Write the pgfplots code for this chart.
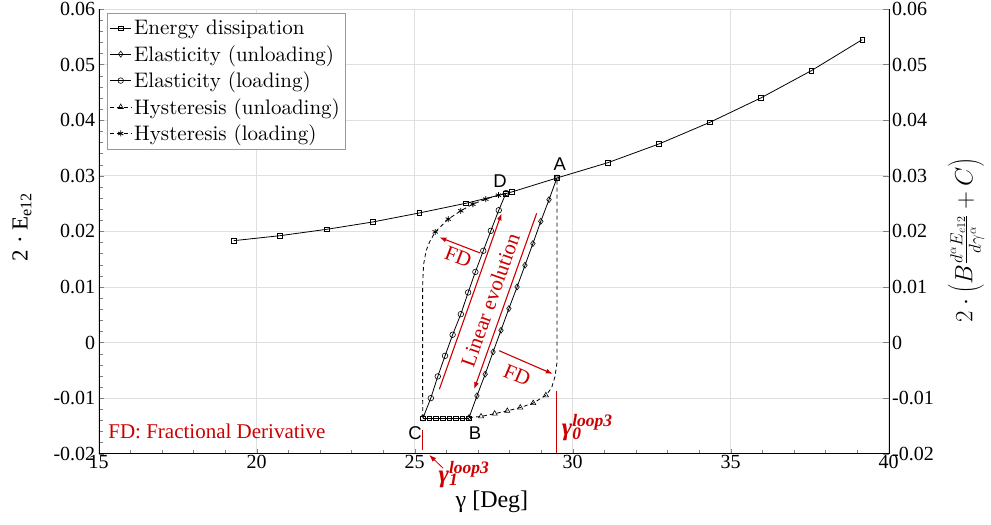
\documentclass[border=0pt]{standalone}
\usepackage{fontspec}
\usepackage{pgfplots}
\pgfplotsset{compat=1.18}
\usetikzlibrary{arrows.meta}
\newfontfamily\timesfont{Liberation Serif}
\newfontfamily\arialfont{Liberation Sans}
\newfontfamily\lmten{lmroman10-regular}[Extension=.otf]
\definecolor{annred}{RGB}{204,0,0}
\newcommand{\gammalab}[1]{\char"03B3\rlap{\textsuperscript{loop3}}\textsubscript{#1}}
\begin{document}
\begin{tikzpicture}[>={Latex[length=7pt,width=5pt]}]
\begin{axis}[
  scale only axis, width=790pt, height=444.7pt,
  xmin=15, xmax=40, ymin=-0.02, ymax=0.06,
  axis x line*=bottom, axis y line*=left,
  xtick={15,20,25,30,35,40},
  ytick={-0.02,-0.01,0,0.01,0.02,0.03,0.04,0.05,0.06},
  minor x tick num=4, minor y tick num=4,
  tick align=inside,
  major tick length=5pt, minor tick length=4pt,
  grid=major, major grid style={gray!25, line width=0.6pt},
  scaled y ticks=false,
  yticklabel style={/pgf/number format/fixed, /pgf/number format/precision=2},
  /pgf/number format/assume math mode=true,
  tick label style={font=\timesfont\fontsize{20}{22}\selectfont},
  xticklabel style={yshift=2pt},
  clip=false,
  legend style={at={(0.01,0.99)}, anchor=north west, draw=gray!80, fill=white,
    font=\lmten\fontsize{21}{23}\selectfont, cells={anchor=west},
    nodes={inner ysep=4.6pt, inner xsep=2.5pt}},
  legend image code/.code={\draw[mark repeat=2,mark phase=2] plot coordinates {(0cm,0cm) (0.37cm,0cm) (0.74cm,0cm)};},
]
\addlegendimage{black, line width=0.8pt, mark=square, mark size=2.3pt, mark options={solid, fill=gray!15, line width=0.6pt}}
\addlegendentry{Energy dissipation}
\addlegendimage{black, line width=0.8pt, mark=diamond, mark size=3pt, mark options={solid, fill=gray!15, line width=0.6pt}}
\addlegendentry{Elasticity (unloading)}
\addlegendimage{black, line width=0.8pt, mark=o, mark size=2.8pt, mark options={solid, fill=gray!15, line width=0.6pt}}
\addlegendentry{Elasticity (loading)}
\addlegendimage{black, line width=0.8pt, dash pattern=on 4pt off 3pt, mark=triangle, mark size=3pt, mark options={solid, fill=gray!15, line width=0.6pt}}
\addlegendentry{Hysteresis (unloading)}
\addlegendimage{black, line width=0.8pt, dash pattern=on 4pt off 3pt, mark=asterisk, mark size=3pt, mark options={solid, line width=0.8pt}}
\addlegendentry{Hysteresis (loading)}

\addplot[forget plot, black, line width=0.8pt, mark=square, mark size=2.3pt, mark options={solid, fill=gray!15, line width=0.6pt}]
coordinates {(19.27,0.01832)(20.74,0.01922)(22.22,0.02037)(23.67,0.02168)(25.14,0.0233)(26.62,0.02505)(27.89,0.0268)(28.08,0.0271)(29.50,0.0296)(31.11,0.03235)(32.73,0.03572)(34.34,0.03961)(35.95,0.04399)(37.55,0.0489)(39.16,0.05448)};
\addplot[forget plot, black, line width=0.8pt, mark=square, mark size=2.3pt, mark options={solid, fill=gray!15, line width=0.6pt}]
coordinates {(25.25,-0.0136)(25.46,-0.0136)(25.67,-0.0136)(25.88,-0.0136)(26.09,-0.0136)(26.30,-0.0136)(26.51,-0.0136)(26.72,-0.0136)};
\addplot[forget plot, black, line width=0.8pt, mark=diamond, mark size=3pt, mark options={solid, fill=gray!15, line width=0.6pt}]
coordinates {(29.50,0.0296)(29.25,0.0257)(28.99,0.0218)(28.74,0.0178)(28.49,0.0139)(28.24,0.0100)(27.98,0.0061)(27.73,0.0022)(27.48,-0.0017)(27.23,-0.0057)(26.97,-0.0096)(26.72,-0.0135)};
\addplot[forget plot, black, line width=0.8pt, mark=o, mark size=2.8pt, mark options={solid, fill=gray!15, line width=0.6pt}]
coordinates {(25.26,-0.0136)(25.51,-0.0100)(25.73,-0.0061)(25.96,-0.0024)(26.20,0.0014)(26.46,0.0051)(26.69,0.0090)(26.92,0.0127)(27.17,0.0165)(27.41,0.0201)(27.66,0.0238)(27.89,0.0269)};
\addplot[forget plot, black, line width=0.8pt, dash pattern=on 4pt off 3pt]
coordinates {(26.72,-0.0135)(27.10,-0.0133)(27.53,-0.0128)(27.93,-0.0123)(28.34,-0.0117)(28.75,-0.0109)(29.15,-0.0095)(29.33,-0.0082)(29.44,-0.0061)(29.50,-0.0037)(29.50,0.0296)};
\addplot[forget plot, only marks, black, mark=triangle, mark size=3pt, mark options={solid, fill=gray!15, line width=0.6pt}]
coordinates {(27.10,-0.0133)(27.53,-0.0128)(27.93,-0.0123)(28.34,-0.0117)(28.75,-0.0109)(29.15,-0.0095)};
\addplot[forget plot, black, line width=0.8pt, dash pattern=on 4pt off 3pt]
coordinates {(25.26,-0.0136)(25.25,-0.0100)(25.25,0.0100)(25.28,0.0140)(25.36,0.0165)(25.48,0.0182)(25.65,0.0199)(26.06,0.0222)(26.46,0.0237)(26.84,0.0249)(27.25,0.0258)(27.65,0.0265)(27.89,0.0269)};
\addplot[forget plot, only marks, black, mark=asterisk, mark size=3pt, mark options={solid, line width=0.8pt}]
coordinates {(25.65,0.0199)(26.06,0.0222)(26.46,0.0237)(26.84,0.0249)(27.25,0.0258)(27.65,0.0265)};

\coordinate (a1s) at (axis cs:27.07,0.01611);
\coordinate (a1e) at (axis cs:25.78,0.01893);
\coordinate (a2s) at (axis cs:27.67,-0.00147);
\coordinate (a2e) at (axis cs:29.37,-0.00566);
\coordinate (a3s) at (axis cs:25.78,-0.00841);
\coordinate (a3e) at (axis cs:27.75,0.02325);
\coordinate (a4s) at (axis cs:28.86,0.02325);
\coordinate (a4e) at (axis cs:26.88,-0.00841);
\coordinate (r1s) at (axis cs:25.25,-0.0157);
\coordinate (r1e) at (axis cs:25.25,-0.0193);
\coordinate (r2s) at (axis cs:29.49,-0.00866);
\coordinate (r2e) at (axis cs:29.49,-0.0199);
\coordinate (g1s) at (axis cs:25.90,-0.02262);
\coordinate (g1e) at (axis cs:25.46,-0.02023);
\coordinate (tFDa) at (axis cs:26.38,0.01544);
\coordinate (tFDb) at (axis cs:28.24,-0.00584);
\coordinate (tLin) at (axis cs:27.39,0.00765);
\coordinate (tFrac) at (axis cs:15.30,-0.01723);
\coordinate (tg0) at (axis cs:29.65,-0.01674);
\coordinate (tg1) at (axis cs:25.75,-0.02510);
\coordinate (tA) at (axis cs:29.59,0.03212);
\coordinate (tB) at (axis cs:26.91,-0.01636);
\coordinate (tC) at (axis cs:25.01,-0.01636);
\coordinate (tD) at (axis cs:27.70,0.02897);
\coordinate (lY) at (rel axis cs:-0.0971,0.5098);
\coordinate (lR) at (rel axis cs:1.098,0.48);
\coordinate (lX) at (rel axis cs:0.4978,-0.1086);
\coordinate (bbSW) at (rel axis cs:-0.12494,-0.16033);
\coordinate (bbNE) at (rel axis cs:1.12949,1.02024);
\end{axis}
\begin{axis}[
  scale only axis, width=790pt, height=444.7pt,
  xmin=15, xmax=40, ymin=-0.02, ymax=0.06,
  axis y line*=right, axis x line=none,
  ytick={-0.02,-0.01,0,0.01,0.02,0.03,0.04,0.05,0.06},
  tick align=inside, major tick length=6pt,
  scaled y ticks=false,
  yticklabel style={/pgf/number format/fixed, /pgf/number format/precision=2},
  /pgf/number format/assume math mode=true,
  tick label style={font=\timesfont\fontsize{20}{22}\selectfont},
]
\addplot[draw=none] coordinates {(15,0)};
\end{axis}
\draw[annred, line width=1.1pt, ->] (a1s) -- (a1e);
\draw[annred, line width=1.1pt, ->] (a2s) -- (a2e);
\draw[annred, line width=1.1pt, ->] (a3s) -- (a3e);
\draw[annred, line width=1.1pt, ->] (a4s) -- (a4e);
\draw[annred, line width=1.3pt] (r1s) -- (r1e);
\draw[annred, line width=1.3pt] (r2s) -- (r2e);
\draw[annred, line width=0.8pt, ->] (g1s) -- (g1e);
\node[annred, rotate=-21, font=\timesfont\fontsize{21}{23}\selectfont] at (tFDa) {FD};
\node[annred, rotate=-23, font=\timesfont\fontsize{21}{23}\selectfont] at (tFDb) {FD};
\node[annred, rotate=70.5, font=\timesfont\fontsize{21}{23}\selectfont] at (tLin) {Linear evolution};
\node[annred, anchor=base west, inner sep=0pt, font=\timesfont\fontsize{21}{23}\selectfont] at (tFrac) {FD: Fractional Derivative};
\node[annred, anchor=base west, inner sep=0pt, font=\timesfont\bfseries\itshape\fontsize{25}{28}\selectfont] at (tg0) {\gammalab{0}};
\node[annred, anchor=base west, inner sep=0pt, font=\timesfont\bfseries\itshape\fontsize{25}{28}\selectfont] at (tg1) {\gammalab{1}};
\node[font=\arialfont\fontsize{18.5}{20}\selectfont] at (tA) {A};
\node[font=\arialfont\fontsize{18.5}{20}\selectfont] at (tB) {B};
\node[font=\arialfont\fontsize{18.5}{20}\selectfont] at (tC) {C};
\node[font=\arialfont\fontsize{18.5}{20}\selectfont] at (tD) {D};
\node[rotate=90, font=\timesfont\fontsize{23}{26}\selectfont] at (lY) {2 \char"00B7\ E\textsubscript{e12}};
\node[rotate=90, font=\fontsize{24}{28}\selectfont] at (lR) {$2\cdot\left(B\frac{d^{\alpha}E_{e12}}{d\gamma^{\alpha}}+C\right)$};
\node[font=\timesfont\fontsize{24}{28}\selectfont] at (lX) {\char"03B3\ [Deg]};
\pgfresetboundingbox
\useasboundingbox (bbSW) rectangle (bbNE);
\end{tikzpicture}
\end{document}
